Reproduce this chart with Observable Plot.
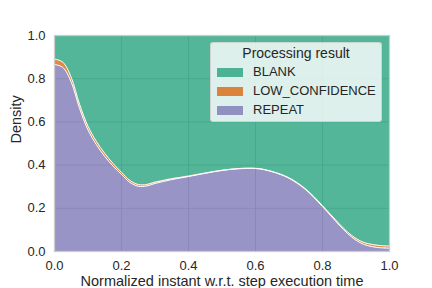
<!DOCTYPE html>
<html>
<head>
<meta charset="utf-8">
<script src="https://cdn.jsdelivr.net/npm/d3@7"></script>
<script src="https://cdn.jsdelivr.net/npm/@observablehq/plot@0.6"></script>
<style>
  html, body { margin: 0; padding: 0; background: white; }
  #wrap { position: relative; width: 432px; height: 288px; font-family: "Liberation Sans", Arial, sans-serif; color: #262626; }
  #legend { position: absolute; left: 210px; top: 42px; width: 172px; height: 80px; box-sizing: border-box;
            background: rgba(255,255,255,0.8); border: 1px solid rgba(204,204,204,0.8); border-radius: 3px; }
  #legend .title { position: absolute; left: 0; right: 0; top: 2px; text-align: center; font-size: 14px; }
  #legend .patch { position: absolute; left: 6px; width: 26px; height: 9px; opacity: 0.75; }
  #legend .lab { position: absolute; left: 42px; font-size: 13px; }
</style>
</head>
<body>
<div id="wrap"></div>
<script>
// x positions (normalized instant)
const xs = [0, 0.025, 0.05, 0.075, 0.1, 0.125, 0.15, 0.175, 0.2, 0.225, 0.25, 0.275, 0.3, 0.325, 0.35, 0.375, 0.4, 0.45, 0.5, 0.55, 0.6, 0.625, 0.65, 0.675, 0.7, 0.725, 0.75, 0.775, 0.8, 0.825, 0.85, 0.875, 0.9, 0.925, 0.95, 0.975, 1];
// fraction of density per series
const repeatVals = [0.866, 0.852, 0.784, 0.662, 0.563, 0.495, 0.440, 0.395, 0.357, 0.320, 0.302, 0.303, 0.315, 0.324, 0.333, 0.340, 0.347, 0.362, 0.375, 0.383, 0.384, 0.379, 0.369, 0.356, 0.339, 0.315, 0.286, 0.249, 0.208, 0.165, 0.122, 0.083, 0.052, 0.032, 0.022, 0.017, 0.015];
const lowConfVals = [0.025, 0.024, 0.022, 0.019, 0.017, 0.015, 0.014, 0.012, 0.010, 0.009, 0.008, 0.007, 0.006, 0.005, 0.004, 0.003, 0.002, 0.001, 0.001, 0.001, 0.001, 0.001, 0.001, 0.002, 0.002, 0.003, 0.003, 0.004, 0.004, 0.005, 0.006, 0.007, 0.008, 0.009, 0.010, 0.010, 0.010];
const blankVals = [0.109, 0.124, 0.194, 0.319, 0.420, 0.490, 0.546, 0.593, 0.633, 0.671, 0.690, 0.690, 0.679, 0.671, 0.663, 0.657, 0.651, 0.637, 0.624, 0.616, 0.615, 0.620, 0.630, 0.642, 0.659, 0.682, 0.711, 0.747, 0.788, 0.830, 0.872, 0.910, 0.940, 0.959, 0.968, 0.973, 0.975];

const legendOrder = ["BLANK", "LOW_CONFIDENCE", "REPEAT"];
const stackOrder = ["REPEAT", "LOW_CONFIDENCE", "BLANK"];
const seriesColors = {BLANK: "#1b9e77", LOW_CONFIDENCE: "#d95f02", REPEAT: "#7570b3"};
const xTicks = [0, 0.2, 0.4, 0.6, 0.8, 1.0];
const yTicks = [0, 0.2, 0.4, 0.6, 0.8, 1.0];
const xLabel = "Normalized instant w.r.t. step execution time";
const yLabel = "Density";
const legendTitle = "Processing result";

const valuesBySeries = {REPEAT: repeatVals, LOW_CONFIDENCE: lowConfVals, BLANK: blankVals};
const rows = [];
for (const s of stackOrder) {
  xs.forEach((x, i) => rows.push({x, value: valuesBySeries[s][i], series: s}));
}

const fmt = d3.format(".1f");
const chart = Plot.plot({
  width: 432, height: 288,
  marginLeft: 54, marginRight: 43, marginTop: 35, marginBottom: 37,
  style: {fontFamily: "'Liberation Sans', Arial, sans-serif", color: "#262626", background: "white", overflow: "visible"},
  x: {domain: [0, 1]},
  y: {domain: [0, 1]},
  color: {domain: stackOrder, range: stackOrder.map(s => seriesColors[s])},
  marks: [
    Plot.gridX(xTicks, {stroke: "#cccccc", strokeOpacity: 1, strokeWidth: 1}),
    Plot.gridY(yTicks, {stroke: "#cccccc", strokeOpacity: 1, strokeWidth: 1}),
    Plot.areaY(rows, {x: "x", y: "value", z: "series", fill: "series", fillOpacity: 0.75, order: stackOrder, curve: "catmull-rom"}),
    Plot.lineY(rows, Plot.stackY2({x: "x", y: "value", z: "series", order: stackOrder, filter: d => d.series !== "BLANK", stroke: "white", strokeWidth: 1, curve: "catmull-rom"})),
    Plot.frame({stroke: "#cccccc", strokeWidth: 1.25}),
    Plot.axisX(xTicks, {tickSize: 0, tickPadding: 9, tickFormat: fmt, label: null, fontSize: 13}),
    Plot.axisY(yTicks, {tickSize: 0, tickPadding: 9, tickFormat: fmt, label: null, fontSize: 13}),
    Plot.text([xLabel], {text: d => d, frameAnchor: "bottom", dy: 34, lineAnchor: "bottom", fontSize: 14.5}),
    Plot.text([yLabel], {text: d => d, frameAnchor: "left", dx: -34, rotate: -90, lineAnchor: "bottom", fontSize: 14.5})
  ]
});

const wrap = document.getElementById("wrap");
wrap.appendChild(chart);

const legend = document.createElement("div");
legend.id = "legend";
const t = document.createElement("div");
t.className = "title";
t.textContent = legendTitle;
legend.appendChild(t);
legendOrder.forEach((s, i) => {
  const p = document.createElement("div");
  p.className = "patch";
  p.style.top = (25 + 18.8 * i) + "px";
  p.style.background = seriesColors[s];
  legend.appendChild(p);
  const l = document.createElement("div");
  l.className = "lab";
  l.style.top = (21 + 18.8 * i) + "px";
  l.textContent = s;
  legend.appendChild(l);
});
wrap.appendChild(legend);
</script>
</body>
</html>
